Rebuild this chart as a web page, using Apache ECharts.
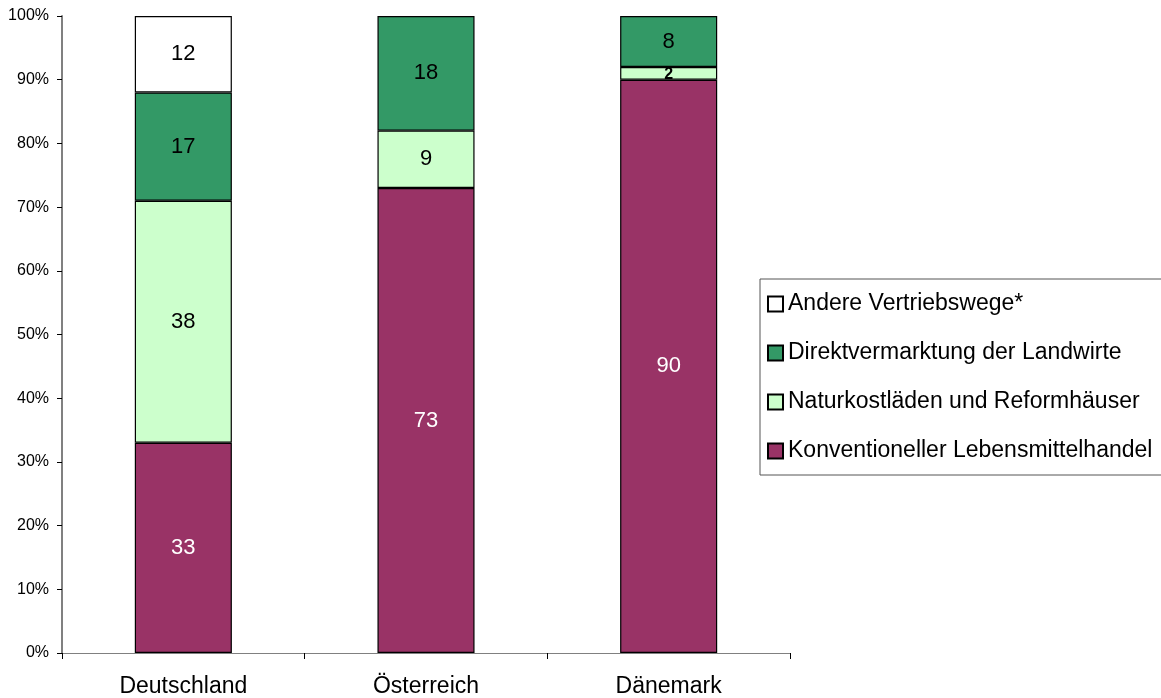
<!DOCTYPE html>
<html>
<head>
<meta charset="utf-8">
<script src="https://cdn.jsdelivr.net/npm/echarts@6/dist/echarts.min.js"></script>
<style>
  html, body { margin: 0; padding: 0; background: #fff; }
  #chart { width: 1161px; height: 698px; }
</style>
</head>
<body>
<div id="chart"></div>
<script>
var categories = ['Deutschland', 'Österreich', 'Dänemark'];
var konventionell = [33, 73, 90];
var naturkost = [38, 9, 2];
var direkt = [17, 18, 8];
var andere = [12, null, null];

var seriesNames = [
  'Konventioneller Lebensmittelhandel',
  'Naturkostläden und Reformhäuser',
  'Direktvermarktung der Landwirte',
  'Andere Vertriebswege*'
];
var colors = ['#993366', '#CCFFCC', '#339966', '#FFFFFF'];
var labelColors = ['#fff', '#000', '#000', '#000'];
var values = [konventionell, naturkost, direkt, andere];

var font = "'Liberation Sans', Arial, sans-serif";

var chart = echarts.init(document.getElementById('chart'));

var series = values.map(function (arr, i) {
  return {
    name: seriesNames[i],
    type: 'bar',
    stack: 'total',
    barCategoryGap: '60%',
    itemStyle: { color: colors[i], borderColor: '#000', borderWidth: 1.2 },
    label: {
      show: true,
      position: 'inside',
      color: labelColors[i],
      fontSize: 22,
      fontFamily: font,
      formatter: function (p) { return p.value ? p.value : ''; }
    },
    data: arr.map(function (v) {
      // tiny segment gets a smaller bold label like the original
      if (v !== null && v < 4) {
        return { value: v, label: { fontSize: 16, fontWeight: 'bold', offset: [0, 1] } };
      }
      return v;
    })
  };
});

chart.setOption({
  backgroundColor: '#fff',
  animation: false,
  textStyle: { fontFamily: font },
  grid: { left: 62, top: 16, right: 371, bottom: 45 },
  legend: {
    data: seriesNames.slice().reverse(),
    orient: 'vertical',
    left: 760,
    top: 279,
    itemWidth: 15,
    itemHeight: 15,
    itemGap: 23,
    padding: [12, 40, 11, 7],
    borderColor: '#555',
    borderWidth: 1,
    selectedMode: false,
    icon: 'rect',
    textStyle: { fontSize: 23, lineHeight: 26, color: '#000', fontFamily: font, padding: [0, 0, 0, 0] }
  },
  xAxis: {
    type: 'category',
    data: categories,
    axisLine: { lineStyle: { color: '#808080', width: 1 } },
    axisTick: { show: true, length: 6, lineStyle: { color: '#000' } },
    axisLabel: { color: '#000', fontSize: 23, margin: 22, fontFamily: font }
  },
  yAxis: {
    type: 'value',
    min: 0,
    max: 100,
    interval: 10,
    axisLine: { show: true, lineStyle: { color: '#808080', width: 2 } },
    axisTick: { show: true, length: 5, lineStyle: { color: '#000' } },
    splitLine: { show: false },
    axisLabel: { color: '#000', fontSize: 16, margin: 13, formatter: '{value}%', fontFamily: font }
  },
  series: series
});
</script>
</body>
</html>
